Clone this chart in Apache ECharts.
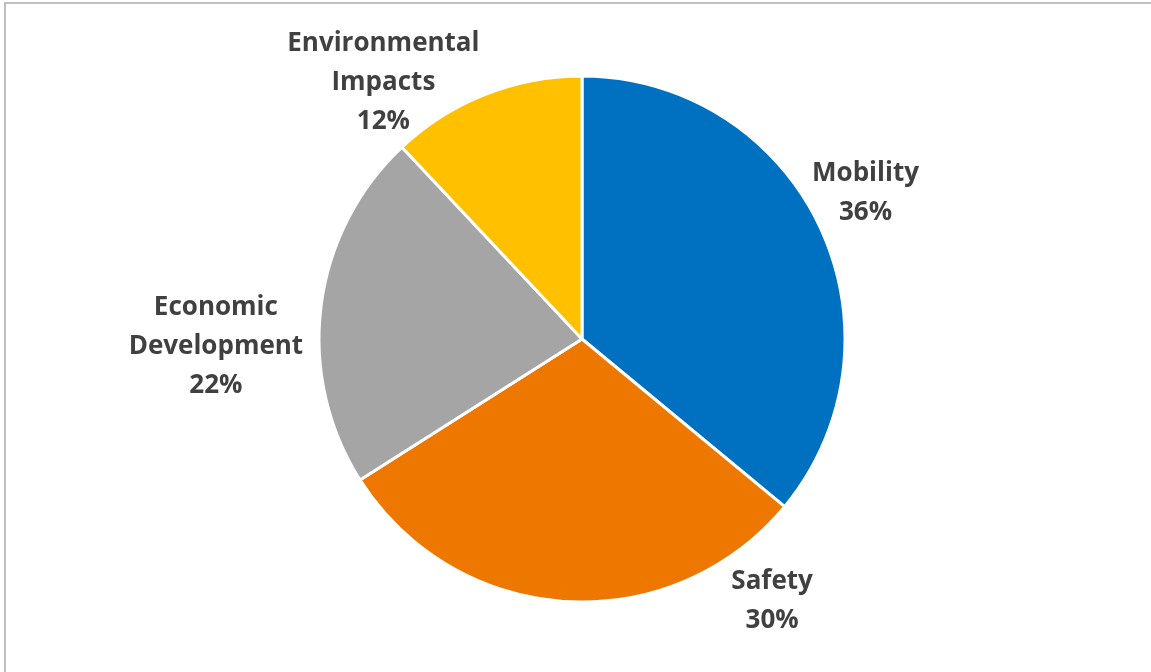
<!DOCTYPE html>
<html>
<head>
<meta charset="utf-8">
<script src="https://cdn.jsdelivr.net/npm/echarts@6/dist/echarts.min.js"></script>
<style>
html,body{margin:0;padding:0;background:#fff;}
#chart{width:1151px;height:672px;}
</style>
</head>
<body>
<div id="chart"></div>
<script>
const categories = ['Mobility', 'Safety', 'Economic Development', 'Environmental Impacts'];
const labelTexts = ['Mobility', 'Safety', 'Economic\nDevelopment', 'Environmental\nImpacts'];
const values = [36, 30, 22, 12];
const colors = ['#0070C0', '#EE7700', '#A5A5A5', '#FFC000'];
const labelNudges = [[-22, -30], [253, -10], [-3, 42], [3, -3]];

const chart = echarts.init(document.getElementById('chart'));
chart.setOption({
  backgroundColor: '#fff',
  animation: false,
  graphic: [{
    type: 'rect',
    shape: { x: 5, y: 3, width: 1200, height: 720 },
    style: { fill: 'none', stroke: '#BFBFBF', lineWidth: 2 }
  }],
  series: [{
    type: 'pie',
    center: [582, 339],
    radius: [0, 263],
    startAngle: 90,
    clockwise: true,
    data: categories.map((c, i) => ({ name: c, value: values[i], itemStyle: { color: colors[i] } })),
    itemStyle: { borderColor: '#fff', borderWidth: 3 },
    label: {
      show: true,
      position: 'outside',
      formatter: p => labelTexts[p.dataIndex] + '\n' + p.value + '%',
      fontFamily: 'Open Sans',
      fontWeight: 'bold',
      fontSize: 26,
      lineHeight: 39,
      color: '#404040'
    },
    labelLine: { show: false, length: 10, length2: 0 },
    labelLayout: function (params) {
      const r = params.labelRect;
      const n = labelNudges[params.dataIndex];
      return {
        x: r.x + r.width / 2 + n[0],
        y: r.y + r.height / 2 + n[1],
        align: 'center',
        verticalAlign: 'middle'
      };
    }
  }]
});
</script>
</body>
</html>
